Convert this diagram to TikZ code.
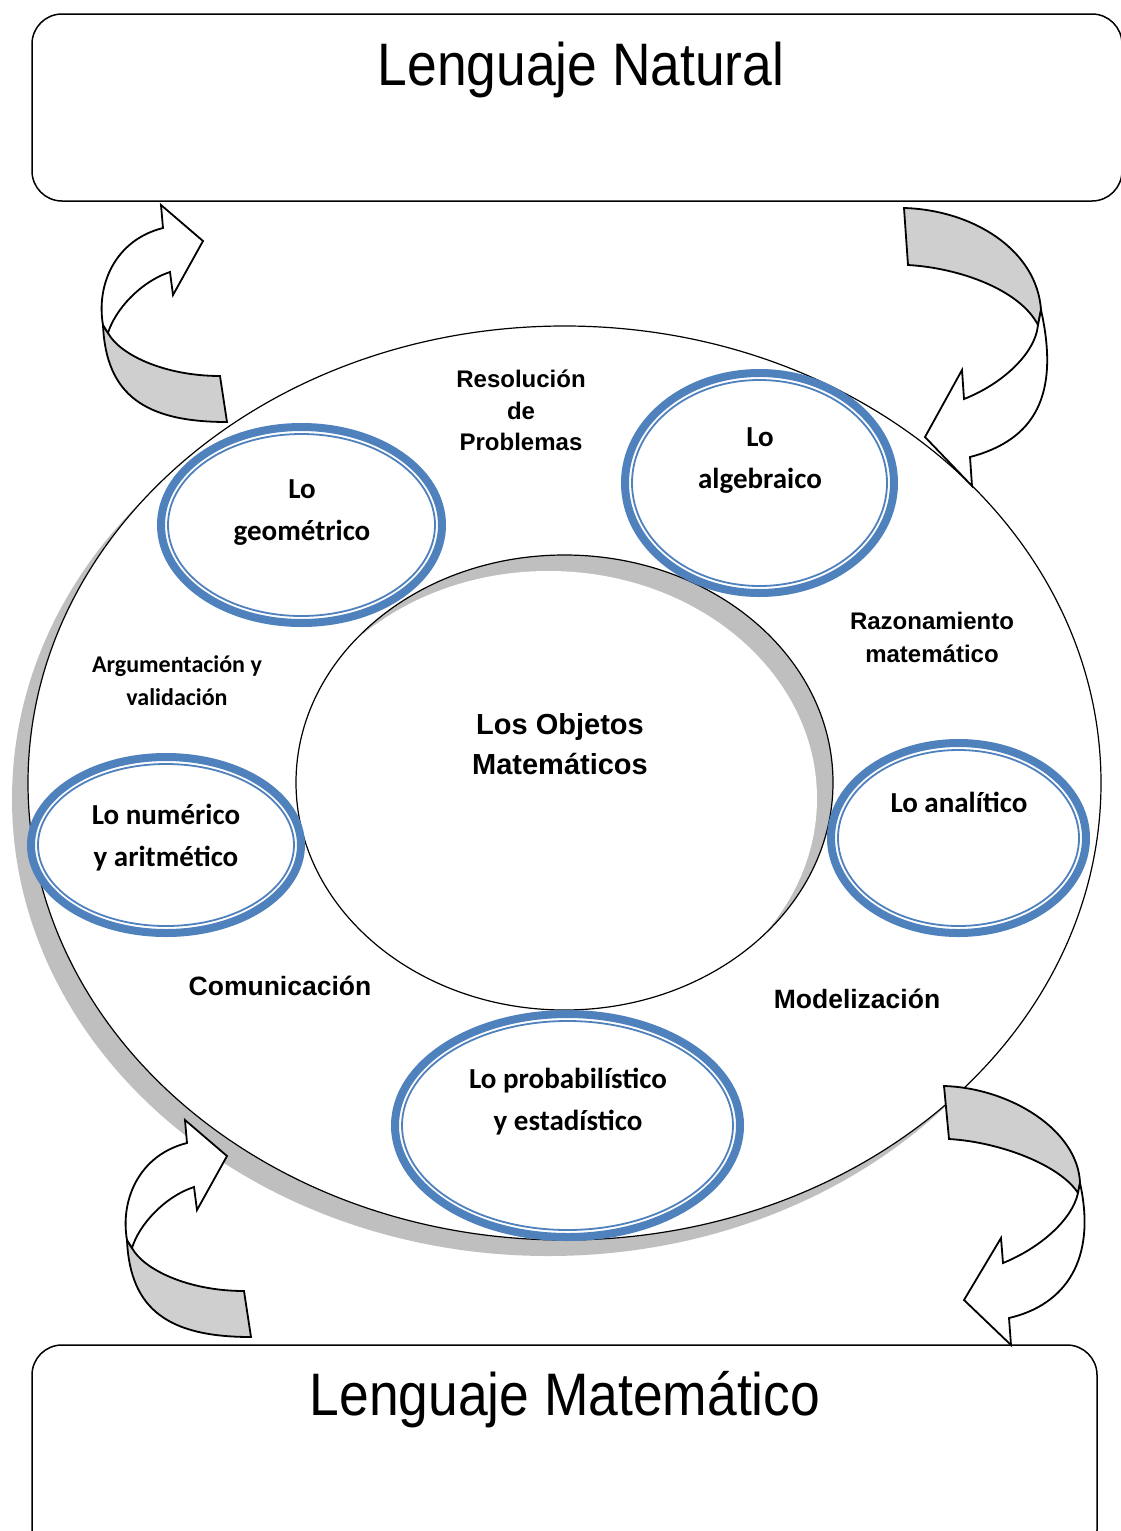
\documentclass[tikz,border=0pt]{standalone}
\usepackage{fontspec}
\setmainfont{Liberation Sans}[BoldFont={Liberation Sans Bold}]
\newfontfamily\arialb{Liberation Sans Bold}
\newfontfamily\calfont{Carlito}[BoldFont={Carlito Bold}]
\usetikzlibrary{shapes.geometric}
\definecolor{ringblue}{HTML}{4F81BD}
\definecolor{shadowgray}{HTML}{BFBFBF}
\definecolor{ribbongray}{HTML}{CFCFCF}
\tikzset{
  ring/.style={ellipse, draw=ringblue, line width=8pt, fill=white, inner sep=0pt},
  ringline/.style={draw=ringblue, line width=1.8pt},
  caltext/.style={font=\calfont\bfseries\fontsize{29}{42}\selectfont, align=center, inner sep=0pt},
  arialtext/.style={font=\arialb\fontsize{24}{31.5}\selectfont, align=center, inner sep=0pt},
  headtext/.style={font=\fontsize{60}{72}\selectfont, anchor=base, inner sep=0pt},
  langbox/.style={draw=black, line width=1.5pt, rounded corners=30pt, inner sep=0pt, fill=white},
  ribbonfront/.style={fill=white, draw=black, line width=1.8pt},
  ribbonback/.style={fill=ribbongray, draw=black, line width=1.8pt},
  ribbonA/.pic={
    \filldraw[ribbonback] (103,325) .. controls (106,395) and (145,422) .. (227,422)
      -- (220,376) .. controls (165,376) and (120,355) .. (108,333) -- cycle;
    \filldraw[ribbonfront] (103,325) .. controls (96,285) and (115,240) .. (163,228)
      -- (161,205) -- (203,241) -- (173,295) -- (170,272)
      .. controls (140,282) and (115,310) .. (108,333) -- cycle;
  }
}
\begin{document}
\begin{tikzpicture}[x=1pt,y=-1pt]
\useasboundingbox (0,0) rectangle (1120,1531);
\fill[white] (0,0) rectangle (1120,1531);

% outer ellipse with shadow
\fill[shadowgray] (548.5,799) ellipse (536.5pt and 457pt);
\node[ellipse, draw=black, line width=1.2pt, fill=white, inner sep=0pt,
      minimum width=1073pt, minimum height=914pt] (outer) at (564.5,783) {};

% inner ellipse with inner shadow
\node[ellipse, fill=shadowgray, inner sep=0pt,
      minimum width=537pt, minimum height=455pt] (obj) at (564.5,782.5) {};
\begin{scope}
  \clip (obj.center) ellipse (268.5pt and 227.5pt);
  \fill[white] ([shift={(-16,16)}]obj.center) ellipse (268.5pt and 227.5pt);
\end{scope}
\draw[line width=1.2pt] (obj.center) ellipse (268.5pt and 227.5pt);

% rings
\node[ring, minimum width=281pt, minimum height=196pt] (geo) at (301.5,525) {};
\draw[ringline] (geo.center) ellipse (133.5pt and 91pt);
\node[ring, minimum width=269pt, minimum height=220pt] (alg) at (759.5,483) {};
\draw[ringline] (alg.center) ellipse (127.5pt and 103pt);
\node[ring, minimum width=270pt, minimum height=176pt] (num) at (166,845) {};
\draw[ringline] (num.center) ellipse (128pt and 81pt);
\node[ring, minimum width=255pt, minimum height=190pt] (ana) at (958.5,838) {};
\draw[ringline] (ana.center) ellipse (120.5pt and 88pt);
\node[ring, minimum width=345pt, minimum height=223pt] (prob) at (567.5,1125.5) {};
\draw[ringline] (prob.center) ellipse (165.5pt and 104.5pt);

% ring texts
\node[caltext] (geotxt) at (302,512.5) {Lo\\geométrico};
\node[caltext] (algtxt) at (760,460.5) {Lo\\algebraico};
\node[caltext] (numtxt) at (166,838) {Lo numérico\\y aritmético};
\node[caltext, anchor=base] (anatxt) at (959,812.5) {Lo analítico};
\node[caltext] (probtxt) at (568,1102) {Lo probabilístico\\y estadístico};

% other texts
\node[arialtext] (resol) at (521,410.5) {Resolución\\de\\Problemas};
\node[arialtext, font=\arialb\fontsize{24}{33}\selectfont] (razon) at (932,637.5) {Razonamiento\\matemático};
\node[caltext, font=\calfont\bfseries\fontsize{24}{33}\selectfont] (argum) at (177,680.5) {Argumentación y\\validación};
\node[arialtext, font=\arialb\fontsize{29}{40}\selectfont] (objtxt) at (560,744) {Los Objetos\\Matemáticos};
\node[arialtext, font=\arialb\fontsize{26.5}{30}\selectfont, anchor=base] (comun) at (280,995) {Comunicación};
\node[arialtext, font=\arialb\fontsize{26.5}{30}\selectfont, anchor=base] (model) at (857,1008) {Modelización};

% language boxes
\node[langbox, minimum width=1090pt, minimum height=187pt] (natbox) at (577,107.5) {};
\node[headtext] (nattxt) at (581,85) {\scalebox{0.89}[1]{Lenguaje Natural}};
\node[langbox, minimum width=1065pt, minimum height=215pt] (matbox) at (564.5,1452.5) {};
\node[headtext] (mattxt) at (565,1415) {\scalebox{0.89}[1]{Lenguaje Matemático}};

% ribbon arrows
\pic at (0,0) {ribbonA};
\pic at (24,915) {ribbonA};

\filldraw[ribbonback] (904,208) .. controls (973,210) and (1037,250) .. (1041,310)
  -- (1038,325) .. controls (1020,290) and (960,268) .. (908,265) -- cycle;
\filldraw[ribbonfront] (1041,310) .. controls (1060,395) and (1035,440) .. (970,457)
  -- (972,486) -- (925,437) -- (962,370) -- (964,399)
  .. controls (1000,385) and (1035,355) .. (1038,325) -- cycle;

\filldraw[ribbonback] (944,1086) .. controls (1010,1088) and (1078,1130) .. (1080,1183)
  -- (1078,1193) .. controls (1060,1165) and (1000,1142) .. (949,1139) -- cycle;
\filldraw[ribbonfront] (1080,1183) .. controls (1097,1260) and (1065,1305) .. (1009,1318)
  -- (1011,1345) -- (964,1300) -- (1001,1238) -- (1003,1263)
  .. controls (1040,1248) and (1072,1220) .. (1078,1193) -- cycle;
\end{tikzpicture}
\end{document}
